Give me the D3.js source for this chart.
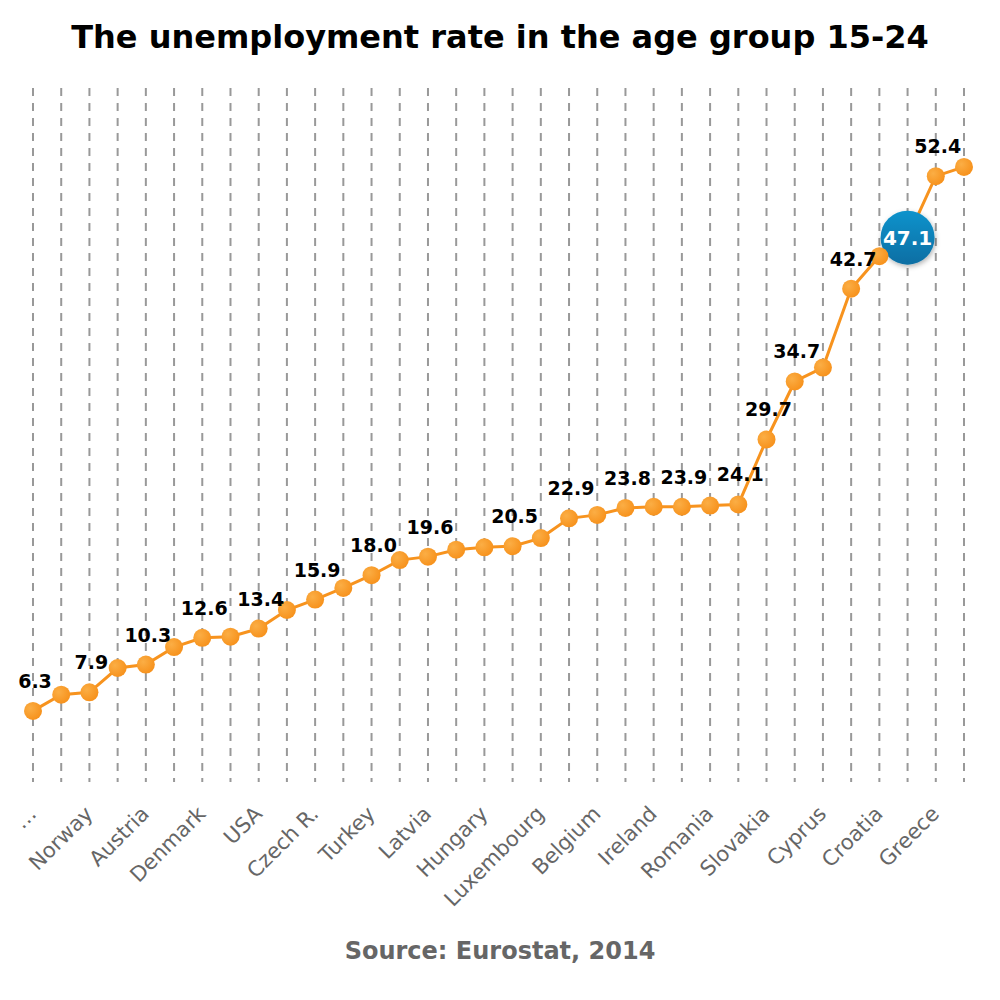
<!DOCTYPE html>
<html>
<head>
<meta charset="utf-8">
<script src="https://cdn.jsdelivr.net/npm/d3@7"></script>
<style>
  body { margin: 0; background: #fff; }
  text { font-family: "DejaVu Sans", Verdana, sans-serif; }
</style>
</head>
<body>
<script>
// youth unemployment (15-24), Eurostat 2014
var categories = ["Japan", "Germany", "Norway", "Switzerland", "Austria", "Malta", "Denmark", "Netherlands",
    "USA", "Estonia", "Czech R.", "UK", "Turkey", "Lithuania", "Latvia", "Slovenia", "Hungary", "Finland",
    "Luxembourg", "Sweden", "Belgium", "Bulgaria", "Ireland", "France", "Romania", "Poland", "Slovakia",
    "Portugal", "Cyprus", "Italy", "Croatia", "Serbia", "Greece", "Spain"];
var values = [6.3, 7.7, 7.9, 10.0, 10.3, 11.8, 12.6, 12.7, 13.4, 15.0, 15.9, 16.9, 18.0, 19.3, 19.6, 20.2,
    20.4, 20.5, 21.2, 22.9, 23.2, 23.8, 23.9, 23.9, 24.0, 24.1, 29.7, 34.7, 35.9, 42.7, 45.5, 47.1, 52.4, 53.2];
// only every other category name is printed on the axis
var tickLabels = ["\u2026", "", "Norway", "", "Austria", "", "Denmark", "", "USA", "", "Czech R.", "",
    "Turkey", "", "Latvia", "", "Hungary", "", "Luxembourg", "", "Belgium", "", "Ireland", "", "Romania", "",
    "Slovakia", "", "Cyprus", "", "Croatia", "", "Greece", ""];
// points whose value label is drawn
var labelled = ["Japan", "Norway", "Austria", "Denmark", "USA", "Czech R.", "Turkey", "Latvia", "Finland",
    "Sweden", "Bulgaria", "France", "Poland", "Slovakia", "Portugal", "Italy", "Greece"];
var highlight = "Serbia";

var data = categories.map((c, i) => ({ name: c, value: values[i], tick: tickLabels[i] }));

var width = 1000, height = 1000;
var svg = d3.select("body").append("svg")
    .attr("width", width)
    .attr("height", height);

var defs = svg.append("defs");
var rg = defs.append("radialGradient").attr("id", "dot").attr("cx", "35%").attr("cy", "35%").attr("r", "65%");
rg.append("stop").attr("offset", "0%").attr("stop-color", "#fbae45");
rg.append("stop").attr("offset", "100%").attr("stop-color", "#f7931e");
var lg = defs.append("linearGradient").attr("id", "blue").attr("x1", 0).attr("y1", 0).attr("x2", 0).attr("y2", 1);
lg.append("stop").attr("offset", "0%").attr("stop-color", "#0b93cc");
lg.append("stop").attr("offset", "100%").attr("stop-color", "#0a6ea3");
var sh = defs.append("filter").attr("id", "shadow").attr("x", "-50%").attr("y", "-50%").attr("width", "200%").attr("height", "200%");
sh.append("feDropShadow").attr("dx", 1).attr("dy", 2).attr("stdDeviation", 2.5)
    .attr("flood-color", "#000").attr("flood-opacity", 0.3);

var x = d3.scalePoint()
    .domain(categories)
    .range([33, 964]);
var y = d3.scaleLinear()
    .domain([0, 60])
    .range([784, 88]);

// title
svg.append("text")
    .attr("x", width / 2)
    .attr("y", 48)
    .attr("text-anchor", "middle")
    .style("font-size", "32px")
    .style("font-weight", "bold")
    .attr("fill", "#000")
    .text("The unemployment rate in the age group 15-24");

// dashed vertical grid
svg.append("g")
    .selectAll("line")
    .data(data)
    .join("line")
    .attr("x1", d => x(d.name))
    .attr("x2", d => x(d.name))
    .attr("y1", y(60))
    .attr("y2", 782)
    .attr("stroke", "#999")
    .attr("stroke-width", 2)
    .attr("stroke-dasharray", "8,7");

// x axis labels
var xAxis = svg.append("g")
    .attr("transform", "translate(0,790)")
    .call(d3.axisBottom(x).tickSize(0).tickFormat((c, i) => tickLabels[i]));
xAxis.select(".domain").remove();
xAxis.selectAll("text")
    .attr("fill", "#666")
    .style("font-size", "21px")
    .attr("text-anchor", "end")
    .attr("dy", 0)
    .attr("transform", "translate(2,23) rotate(-45)");

// line
var line = d3.line()
    .x(d => x(d.name))
    .y(d => y(d.value));
svg.append("path")
    .datum(data)
    .attr("d", line)
    .attr("fill", "none")
    .attr("stroke", "#f7931e")
    .attr("stroke-width", 3);

// highlighted point
var hl = data.find(d => d.name === highlight);
svg.append("circle")
    .attr("cx", x(hl.name))
    .attr("cy", y(hl.value))
    .attr("r", 27)
    .attr("fill", "url(#blue)")
    .attr("filter", "url(#shadow)");

// markers
svg.append("g")
    .selectAll("circle")
    .data(data.filter(d => d.name !== highlight))
    .join("circle")
    .attr("cx", d => x(d.name))
    .attr("cy", d => y(d.value))
    .attr("r", 9)
    .attr("fill", "url(#dot)");

// value labels
svg.append("g")
    .selectAll("text")
    .data(data.filter(d => labelled.includes(d.name)))
    .join("text")
    .attr("x", d => x(d.name) + 2)
    .attr("y", d => y(d.value) - 23)
    .attr("text-anchor", "middle")
    .style("font-size", "19px")
    .style("font-weight", "bold")
    .attr("fill", "#000")
    .text(d => d.value.toFixed(1));

svg.append("text")
    .attr("x", x(hl.name))
    .attr("y", y(hl.value) + 7)
    .attr("text-anchor", "middle")
    .style("font-size", "20px")
    .style("font-weight", "bold")
    .attr("fill", "#fff")
    .text(hl.value.toFixed(1));

// source
svg.append("text")
    .attr("x", width / 2)
    .attr("y", 959)
    .attr("text-anchor", "middle")
    .style("font-size", "24px")
    .style("font-weight", "bold")
    .attr("fill", "#666")
    .text("Source: Eurostat, 2014");
</script>
</body>
</html>
